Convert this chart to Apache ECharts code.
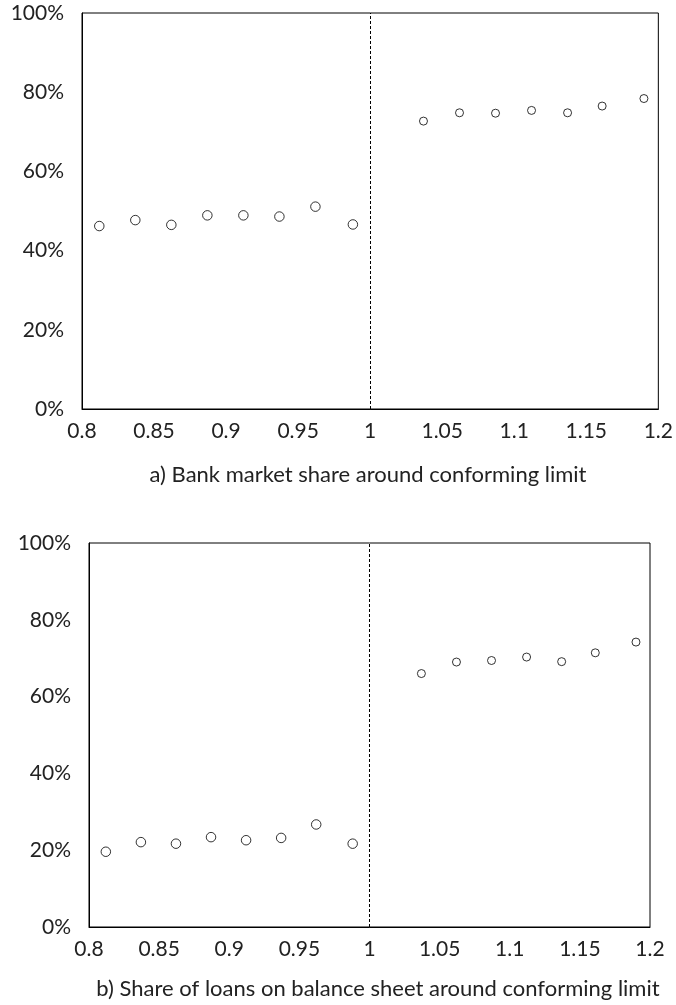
<!DOCTYPE html>
<html>
<head>
<meta charset="utf-8">
<script src="https://cdn.jsdelivr.net/npm/echarts@6/dist/echarts.min.js"></script>
<style>
html,body{margin:0;padding:0;background:#fff;}
#chart{width:676px;height:1005px;}
</style>
</head>
<body>
<div id="chart"></div>
<script>
// Relative loan size bins (loan amount / conforming limit)
const binCenters = [0.812, 0.837, 0.862, 0.887, 0.912, 0.937, 0.962, 0.988, 1.037, 1.062, 1.087, 1.112, 1.137, 1.161, 1.190];
// a) Bank market share (%)
const bankMarketShare = [46.2, 47.7, 46.5, 48.9, 48.9, 48.6, 51.1, 46.6, 72.7, 74.8, 74.7, 75.4, 74.8, 76.5, 78.4];
// b) Share of loans kept on balance sheet (%)
const balanceSheetShare = [19.6, 22.1, 21.7, 23.4, 22.6, 23.2, 26.7, 21.7, 66.0, 69.0, 69.4, 70.3, 69.1, 71.4, 74.2];
const captions = ['a) Bank market share around conforming limit', 'b) Share of loans on balance sheet around conforming limit'];
const conformingLimit = 1;
const xMin = 0.8, xMax = 1.2, xStep = 0.05;
const yMin = 0, yMax = 100, yStep = 20;

const FONT = 'Lato';
const chart = echarts.init(document.getElementById('chart'), null, {renderer: 'canvas'});

function xAxis(gi) {
  return {
    gridIndex: gi, type: 'value', min: xMin, max: xMax, interval: xStep,
    axisLine: {show: true, lineStyle: {color: '#000', width: 1}},
    axisTick: {show: false}, splitLine: {show: false},
    axisLabel: {color: '#222', fontFamily: FONT, fontSize: 21, margin: 12,
      formatter: v => String(Math.round(v * 100) / 100)}
  };
}
function yAxis(gi) {
  return {
    gridIndex: gi, type: 'value', min: yMin, max: yMax, interval: yStep,
    axisLine: {show: true, lineStyle: {color: '#000', width: 1}},
    axisTick: {show: false}, splitLine: {show: false},
    axisLabel: {color: '#222', fontFamily: FONT, fontSize: 21, margin: 18,
      padding: [5, 0, 0, 0],
      formatter: v => v + '%'}
  };
}
function series(gi, vals) {
  return {
    type: 'scatter', xAxisIndex: gi, yAxisIndex: gi,
    data: binCenters.map((x, i) => [x, vals[i]]),
    symbol: 'circle',
    symbolSize: d => d[0] < conformingLimit ? 9.5 : 8,
    itemStyle: {color: '#fff', borderColor: '#000', borderWidth: 1},
    emphasis: {disabled: true},
    silent: true,
    markLine: {
      silent: true, symbol: 'none', animation: false,
      label: {show: false},
      lineStyle: {color: '#000', type: [3, 2], width: 1},
      data: [{xAxis: conformingLimit}]
    },
    z: 3
  };
}

chart.setOption({
  animation: false,
  backgroundColor: '#fff',
  textStyle: {fontFamily: FONT},
  grid: [
    {left: 82, top: 13, width: 578, height: 396, show: true, borderColor: '#000', borderWidth: 1, backgroundColor: 'transparent'},
    {left: 89, top: 543, width: 561, height: 384, show: true, borderColor: '#000', borderWidth: 1, backgroundColor: 'transparent'}
  ],
  xAxis: [xAxis(0), xAxis(1)],
  yAxis: [yAxis(0), yAxis(1)],
  series: [series(0, bankMarketShare), series(1, balanceSheetShare)],
  title: [
    {text: captions[0], left: 363, top: 459, textAlign: 'center',
      textStyle: {fontFamily: FONT, fontSize: 22, fontWeight: 'normal', color: '#222'}},
    {text: captions[1], left: 373, top: 973, textAlign: 'center',
      textStyle: {fontFamily: FONT, fontSize: 22, fontWeight: 'normal', color: '#222'}}
  ]
});
</script>
</body>
</html>
